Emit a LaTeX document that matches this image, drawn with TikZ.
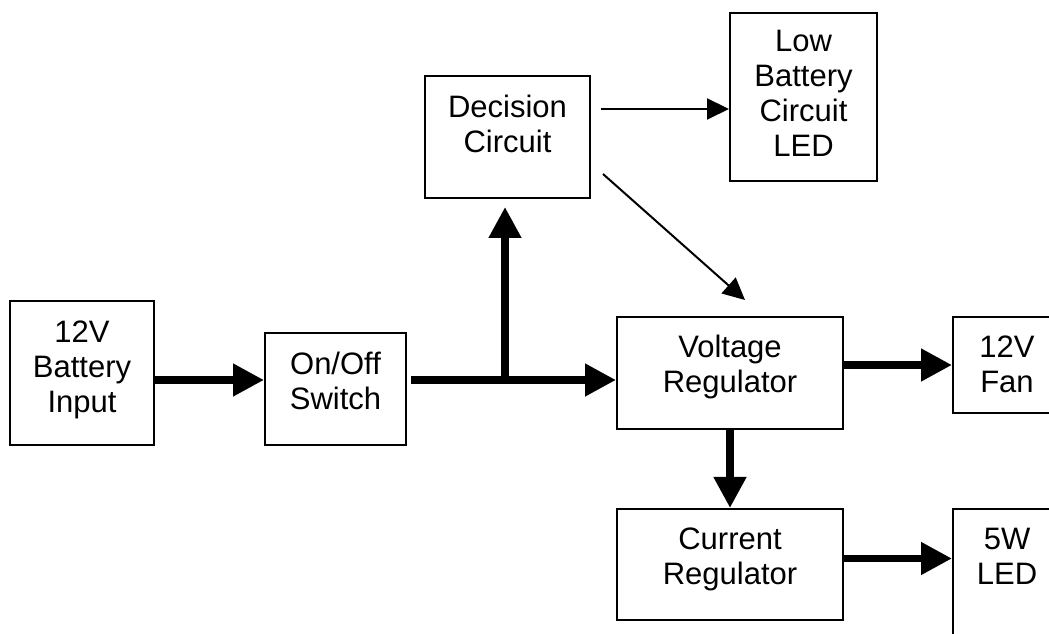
\documentclass[tikz,border=0pt]{standalone}
\usepackage{fontspec}
\setmainfont{Liberation Sans}
\usetikzlibrary{arrows.meta,calc}

\begin{document}
\begin{tikzpicture}[x=1pt, y=1pt,
    block/.style={draw, line width=2pt, anchor=north west, inner sep=0pt},
    txt/.style={anchor=north, align=center, inner sep=0pt, font=\fontsize{31}{35}\selectfont},
    bigarrow/.style={line width=7.5pt, -{Triangle[length=31pt,width=31pt]}},
    thinarrow/.style={line width=2pt, -{Triangle[length=22pt,width=21pt]}}]
  \useasboundingbox (0,0) rectangle (1049,634);
  \clip (0,0) rectangle (1049,634);
  % blocks
  \node[block, minimum width=144pt, minimum height=144pt] (bat) at (9,334) {};
  \node[block, minimum width=141pt, minimum height=112pt] (sw) at (264,302) {};
  \node[block, minimum width=165pt, minimum height=122pt] (dec) at (424,559) {};
  \node[block, minimum width=147pt, minimum height=168pt] (low) at (729,622) {};
  \node[block, minimum width=226pt, minimum height=112pt] (vr) at (616,318) {};
  \node[block, minimum width=226pt, minimum height=111pt] (cr) at (616,126) {};
  \node[block, minimum width=108pt, minimum height=96pt] (fan) at (952,318) {};
  \node[block, minimum width=108pt, minimum height=160pt] (led) at (952,126) {};
  % texts
  \node[txt] (bat-t) at ([yshift=-21pt]bat.north) {12V\\Battery\\Input};
  \node[txt] (sw-t) at ([yshift=-20pt]sw.north) {On/Off\\Switch};
  \node[txt] (dec-t) at ([yshift=-20pt]dec.north) {Decision\\Circuit};
  \node[txt] (low-t) at ([yshift=-18pt]low.north) {Low\\Battery\\Circuit\\LED};
  \node[txt] (vr-t) at ([yshift=-19pt]vr.north) {Voltage\\Regulator};
  \node[txt] (cr-t) at ([yshift=-20pt]cr.north) {Current\\Regulator};
  \node[txt] (fan-t) at ([yshift=-20pt]fan.north) {12V\\Fan};
  \node[txt] (led-t) at ([yshift=-20pt]led.north) {5W\\LED};
  % connectors
  \coordinate (jn) at (505,254);
  \draw[bigarrow] (bat.east |- jn) -- (sw.west |- jn);
  \draw[bigarrow, shorten <=4pt] (sw.east |- jn) -- (vr.west |- jn);
  \draw[bigarrow, shorten >=8pt] (jn) -- (jn |- dec.south);
  \draw[thinarrow] ([xshift=10pt,yshift=28pt]dec.east) -- ([yshift=28pt]dec.east -| low.west);
  \draw[thinarrow] ([xshift=12pt,yshift=-37pt]dec.east) -- ([xshift=15pt,yshift=16pt]vr.north);
  \draw[bigarrow] (vr.east |- fan.west) -- (fan.west);
  \draw[bigarrow] (vr.south) -- (cr.north);
  \draw[bigarrow] ([yshift=6pt]cr.east) -- ([yshift=6pt]cr.east -| led.west);
\end{tikzpicture}
\end{document}
